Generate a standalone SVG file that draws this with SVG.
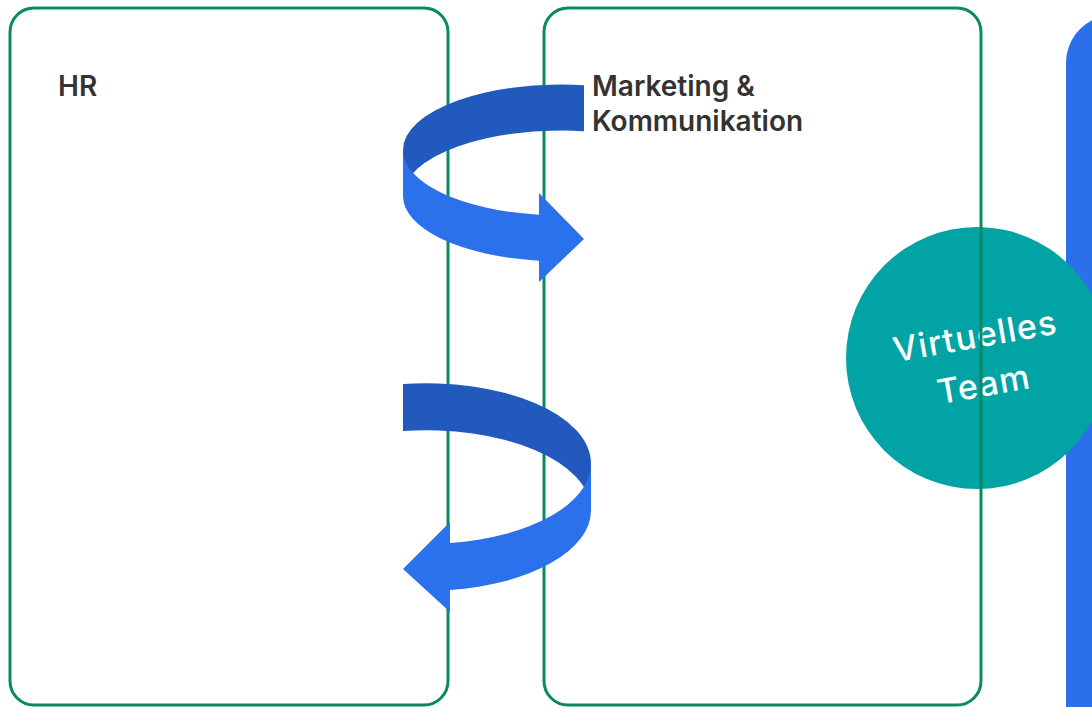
<svg xmlns="http://www.w3.org/2000/svg" width="1092" height="707" viewBox="0 0 1092 707">
  <style>
    .box { fill: none; stroke: #0B8A62; stroke-width: 3; }
    .title { font-family: Inter, "Noto Sans", "Liberation Sans", sans-serif; font-weight: 600; font-size: 28px; fill: #333333; }
    .circle-label { font-family: Inter, "Noto Sans", "Liberation Sans", sans-serif; font-weight: 500; font-size: 34px; letter-spacing: 1.2px; fill: #FFFFFF; text-anchor: middle; }
    .back { fill: #2159BD; }
    .front { fill: #2B71EB; }
  </style>
  <rect width="1092" height="707" fill="#FFFFFF"/>
  <g id="bar">
    <rect x="1066" y="15" width="100" height="760" rx="48" ry="48" fill="#2B70EA"/>
  </g>
  <g id="virtual-team">
    <circle cx="977" cy="358" r="131" fill="#02A3A4"/>
    <g transform="translate(977 358) rotate(-10)">
      <text class="circle-label" x="2" y="-10">Virtuelles</text>
      <text class="circle-label" x="2" y="39">Team</text>
    </g>
  </g>
  <g id="hr">
    <rect class="box" x="10" y="8" width="438" height="697" rx="24" ry="24"/>
    <text class="title" x="58" y="96">HR</text>
  </g>
  <g id="marketing">
    <rect class="box" x="544" y="8" width="437" height="697" rx="24" ry="24"/>
    <text class="title" x="592" y="96">Marketing &amp;</text>
    <text class="title" x="592" y="131">Kommunikation</text>
  </g>
  <g id="connectors">
    <g id="arrow-hr-to-marketing">
      <path class="back" d="M 584,85.2 A 158.5 65.5 0 0 0 403,150 L 403,196 A 158.5 65.5 0 0 1 584,131.2 Z"/>
      <path class="front" d="M 403,150 A 158.5 65.5 0 0 0 539,214.8 L 539,193 L 584,239 L 539,282 L 539,260.8 A 158.5 65.5 0 0 1 403,196 Z"/>
    </g>
    <g id="arrow-marketing-to-hr">
      <path class="back" d="M 403,384 A 164.5 80.3 0 0 1 591,463.5 L 591,510.5 A 164.5 80.3 0 0 0 403,431 Z"/>
      <path class="front" d="M 591,463.5 A 164.5 80.3 0 0 1 450,543 L 450,522 L 403,569 L 450,612 L 450,590 A 164.5 80.3 0 0 0 591,510.5 Z"/>
    </g>
  </g>
</svg>
